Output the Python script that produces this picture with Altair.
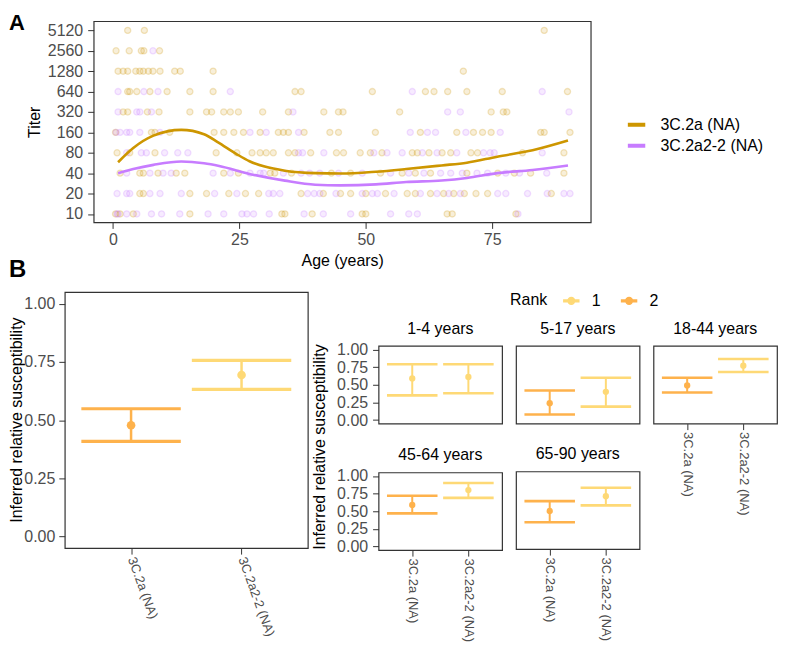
import altair as alt
import pandas as pd

FONT = "Liberation Sans"
GOLD = "#CD9600"
PURPLE = "#C77CFF"
RANK_DOMAIN = ["1", "2"]
RANK_RANGE = ["#FED976", "#FEB24C"]

# ---------------- Panel A data ----------------
series_names = ["3C.2a (NA)", "3C.2a2-2 (NA)"]
titer_ticks = [10, 20, 40, 80, 160, 320, 640, 1280, 2560, 5120]
age_ticks = [0, 25, 50, 75]

# 3C.2a (NA): ages of individuals at each titer level
a2a_t10 = [0.5, 1.4, 4.0, 15.2, 33.4, 34.0, 39.4, 49.3, 50.0, 66.1, 67.1, 79.7]
a2a_t20 = [5.3, 6.0, 15.2, 18.5, 22.9, 26.2, 28.8, 37.2, 41.6, 45.0, 47.0, 50.0, 53.9, 58.2,
           59.8, 62.8, 65.4, 67.4, 69.5, 71.8, 74.1, 86.7]
a2a_t40 = [1.4, 5.3, 6.0, 8.9, 12.5, 14.2, 21.9, 24.8, 31.1, 32.0, 35.3, 43.2, 47.0, 52.9,
           57.2, 59.8, 62.8, 70.0, 76.1, 79.4, 82.6, 89.2]
a2a_t80 = [0.8, 3.3, 8.3, 20.4, 24.5, 27.5, 29.1, 30.3, 31.7, 34.7, 36.0, 39.1, 44.2, 45.6,
           48.9, 50.9, 53.2, 59.2, 60.2, 62.5, 65.1, 66.8, 70.8, 72.1, 81.0, 89.2]
a2a_t160 = [0.5, 7.6, 8.3, 11.2, 20.0, 21.9, 23.9, 25.8, 29.1, 32.7, 33.7, 34.7, 37.8, 42.9,
            44.6, 51.9, 60.8, 68.0, 71.3, 73.1, 74.8, 84.6, 85.3, 90.4]
a2a_t320 = [2.0, 2.9, 6.8, 9.1, 15.2, 18.5, 19.5, 21.9, 23.2, 24.8, 29.6, 34.7, 41.7, 44.6,
            45.5, 56.7, 74.8, 77.2, 77.9]
a2a_t640 = [2.9, 3.3, 4.7, 7.3, 10.7, 15.2, 19.8, 36.0, 37.2, 51.3, 61.8, 63.5, 66.2, 70.0,
            77.0, 89.9]
a2a_t1280 = [1.0, 2.0, 2.9, 4.5, 5.3, 6.0, 7.0, 7.9, 9.3, 12.2, 13.3, 19.8, 69.3]
a2a_t2560 = [0.6, 3.2, 5.6, 6.1, 9.2]
a2a_t5120 = [2.9, 6.2, 85.3]

# 3C.2a2-2 (NA): ages of individuals at each titer level
b22_t10 = [0.8, 1.0, 2.7, 4.7, 7.6, 9.6, 13.2, 18.8, 21.9, 25.5, 26.5, 27.8, 30.9, 37.8,
           41.6, 47.0, 54.9, 58.5, 60.2, 80.1]
b22_t20 = [0.8, 2.7, 3.3, 7.3, 9.3, 13.5, 20.1, 24.5, 30.8, 31.7, 33.0, 38.5, 39.8, 40.9,
           44.1, 49.3, 51.3, 52.3, 55.6, 60.8, 64.1, 66.4, 68.7, 76.1, 77.7, 82.0, 85.9,
           89.2, 90.4]
b22_t40 = [2.7, 7.3, 9.9, 11.5, 19.8, 23.2, 27.1, 29.1, 29.8, 33.7, 37.2, 38.9, 40.9, 44.6,
           49.3, 54.9, 58.5, 61.5, 64.8, 66.8, 69.1, 72.0, 74.1, 77.7, 80.4, 85.8]
b22_t80 = [2.7, 5.6, 6.6, 10.2, 12.8, 14.8, 36.7, 37.5, 41.7, 51.6, 54.2, 57.2, 61.2, 64.1,
           68.0, 73.3, 74.6, 75.4, 84.9]
b22_t160 = [0.6, 1.4, 2.7, 3.3, 5.3, 9.3, 27.1, 30.3, 36.7, 58.8, 62.2, 63.8, 69.8, 76.6]
b22_t320 = [1.0, 4.7, 5.3, 7.6, 35.6, 66.2, 68.7, 90.2]
b22_t640 = [1.0, 6.1, 8.9, 23.2, 59.2, 84.9]
b22_t1280 = []
b22_t2560 = [7.9]
b22_t5120 = []

# smoothed trend curves
gold_curve_age = [1, 4, 8, 13.5, 18, 20.7, 24.5, 27, 30, 34, 40, 45, 52, 58, 65, 70, 76, 83, 90]
gold_curve_titer = [58, 94, 143, 174, 150, 115, 76, 60, 50, 43.5, 40, 39.5, 42, 46, 52, 57,
                    70, 87, 121]
purple_curve_age = [1, 4, 8, 13.5, 18, 21, 27, 34, 40, 45, 52, 58, 65, 70, 76, 83, 90]
purple_curve_titer = [40, 46, 53, 59.5, 56, 51, 39, 31, 27, 26.4, 27.3, 29.6, 31.2, 34, 40,
                      44.5, 52]

# ---------------- Panel B data ----------------
variants = ["3C.2a (NA)", "3C.2a2-2 (NA)"]
overall_rank = ["2", "1"]
overall_est = [0.478, 0.694]
overall_lo = [0.409, 0.632]
overall_hi = [0.549, 0.757]

age_groups = ["1-4 years", "5-17 years", "18-44 years", "45-64 years", "65-90 years"]
sm_rank_2a = ["1", "2", "2", "2", "2"]
sm_est_2a = [0.59, 0.24, 0.49, 0.59, 0.49]
sm_lo_2a = [0.35, 0.08, 0.39, 0.47, 0.33]
sm_hi_2a = [0.79, 0.42, 0.60, 0.72, 0.63]
sm_rank_2a22 = ["1", "1", "1", "1", "1"]
sm_est_2a22 = [0.61, 0.40, 0.77, 0.80, 0.70]
sm_lo_2a22 = [0.38, 0.19, 0.68, 0.69, 0.57]
sm_hi_2a22 = [0.79, 0.60, 0.865, 0.90, 0.82]

susc_ticks = [0, 0.25, 0.5, 0.75, 1.0]
panel_tags = ["A", "B"]
shared_ytitle = "Inferred relative susceptibility"

# ---------------- build tables ----------------
def level_rows(name, lists):
    rows = []
    for lvl, ages in zip(titer_ticks, lists):
        for a in ages:
            rows.append({"age": a, "titer": lvl, "series": name})
    return rows

pts = pd.DataFrame(
    level_rows(series_names[0], [a2a_t10, a2a_t20, a2a_t40, a2a_t80, a2a_t160, a2a_t320,
                                 a2a_t640, a2a_t1280, a2a_t2560, a2a_t5120])
    + level_rows(series_names[1], [b22_t10, b22_t20, b22_t40, b22_t80, b22_t160, b22_t320,
                                   b22_t640, b22_t1280, b22_t2560, b22_t5120])
)
curves = pd.DataFrame({
    "age": gold_curve_age + purple_curve_age,
    "titer": gold_curve_titer + purple_curve_titer,
    "series": [series_names[0]] * len(gold_curve_age) + [series_names[1]] * len(purple_curve_age),
})

NOSTROKE = alt.ViewBackground(strokeOpacity=0)
spacer_df = pd.DataFrame({"v": [0]})


def spacer(w, h):
    return alt.Chart(spacer_df).mark_point(opacity=0).encode(
        x=alt.value(0), y=alt.value(0)).properties(width=w, height=h, view=NOSTROKE)


def vtitle(text, cx, cy, w, h):
    return alt.Chart(pd.DataFrame({"t": [text]})).mark_text(
        angle=270, align="center", baseline="middle", fontSize=16, font=FONT, color="black"
    ).encode(text="t:N", x=alt.value(cx), y=alt.value(cy)).properties(
        width=w, height=h, view=NOSTROKE)

# ---------------- Panel A ----------------
x_a = alt.X("age:Q", scale=alt.Scale(domain=[-3.83, 94.5], nice=False, zero=False),
            axis=alt.Axis(values=age_ticks, title="Age (years)", labelPadding=3, titlePadding=5))
y_a = alt.Y("titer:Q", scale=alt.Scale(type="log", base=2, domain=[7.5, 7000], nice=False),
            axis=alt.Axis(values=titer_ticks, format="d", title="Titer", titlePadding=5,
                          labelPadding=5))
color_a = alt.Color("series:N", scale=alt.Scale(domain=series_names, range=[GOLD, PURPLE]),
                    legend=alt.Legend(title=None, orient="none", legendX=536, legendY=95,
                                      symbolType="M-1,-0.16H1V0.16H-1Z", symbolSize=256,
                                      symbolOpacity=1, labelFontSize=16, labelFont=FONT,
                                      labelColor="black", labelOffset=15, rowPadding=4))

pts_fill = alt.Chart(pts).mark_circle(size=38, fillOpacity=0.15, strokeOpacity=0).encode(
    x=x_a, y=y_a, color=color_a)
pts_ring = alt.Chart(pts).mark_point(size=38, strokeWidth=1.3, strokeOpacity=0.33,
                                     filled=False).encode(x=x_a, y=y_a, color=color_a)
trend = alt.Chart(curves).mark_line(strokeWidth=2.6, interpolate="monotone").encode(
    x=x_a, y=y_a, color=color_a)
chart_a = alt.layer(pts_fill, pts_ring, trend).properties(width=499, height=202)

tagA = alt.Chart(pd.DataFrame({"tag": [panel_tags[0]]})).mark_text(
    align="left", baseline="alphabetic", fontSize=22, fontWeight="bold", font=FONT,
    color="black").encode(text="tag:N", x=alt.value(0), y=alt.value(9))
tagB = alt.Chart(pd.DataFrame({"tag": [panel_tags[1]]})).mark_text(
    align="left", baseline="alphabetic", fontSize=24, fontWeight="bold", font=FONT,
    color="black").encode(text="tag:N", x=alt.value(0), y=alt.value(257))
spacer_a = alt.layer(tagA, tagB).properties(width=85, height=202, view=NOSTROKE)

row_a = alt.hconcat(spacer_a, chart_a, spacing=0, bounds="flush").resolve_scale(
    color="independent")

# ---------------- Panel B ----------------
RANK_SYMBOL = ("M-1,-0.13H-0.45V0.13H-1Z M0.45,-0.13H1V0.13H0.45Z "
               "M0.45,0A0.45,0.45,0,1,1,-0.45,0A0.45,0.45,0,1,1,0.45,0Z")
rank_legend = alt.Legend(title="Rank", orient="none", legendX=503, legendY=0,
                         direction="horizontal", titleOrient="left", titleFontSize=16,
                         titleFontWeight="normal", titleColor="black", titleFont=FONT,
                         titleBaseline="middle", titlePadding=15,
                         labelFontSize=16, labelFont=FONT, labelColor="black",
                         symbolType=RANK_SYMBOL, symbolSize=225, symbolOpacity=1,
                         labelOffset=12, columnPadding=18)
rank_color = alt.Color("rank:N", scale=alt.Scale(domain=RANK_DOMAIN, range=RANK_RANGE),
                       legend=rank_legend)
susc_scale = alt.Scale(domain=[-0.05, 1.05], nice=False, zero=False)


def y_enc(field, axis):
    return alt.Y(field + ":Q", scale=susc_scale, axis=axis)


def pointrange(df, x_enc, y_axis, pt_size, cap, rule_w, cap_w):
    base = alt.Chart(df)
    pt = base.mark_circle(size=pt_size, opacity=1).encode(
        x=x_enc, y=y_enc("est", y_axis), color=rank_color)
    rule = base.mark_rule(strokeWidth=rule_w).encode(
        x=x_enc, y=y_enc("lo", y_axis), y2="hi:Q", color=rank_color)
    lo = base.mark_tick(size=cap, thickness=cap_w, opacity=1).encode(
        x=x_enc, y=y_enc("lo", y_axis), color=rank_color)
    hi = base.mark_tick(size=cap, thickness=cap_w, opacity=1).encode(
        x=x_enc, y=y_enc("hi", y_axis), color=rank_color)
    return [pt, rule, lo, hi]


bl_df = pd.DataFrame({"variant": variants, "rank": overall_rank, "est": overall_est,
                      "lo": overall_lo, "hi": overall_hi})
BL_W, BL_H = 244, 257
x_bl = alt.X("variant:N", scale=alt.Scale(type="point", padding=0.6, domain=variants),
             axis=alt.Axis(title=None, labelAngle=70, labelAlign="left",
                           labelBaseline="middle", labelFontSize=13, labelPadding=3))
y_bl_axis = alt.Axis(values=susc_ticks, format=".2f", title=None, labelPadding=4)
chart_bl = alt.layer(*pointrange(bl_df, x_bl, y_bl_axis, 75, 0.9 * BL_W / 2.2, 2.5, 3.2)
                     ).properties(width=BL_W, height=BL_H)

PW, PH = 124, 78


def small_panel(i, show_y, show_x):
    df = pd.DataFrame({"variant": variants,
                       "rank": [sm_rank_2a[i], sm_rank_2a22[i]],
                       "est": [sm_est_2a[i], sm_est_2a22[i]],
                       "lo": [sm_lo_2a[i], sm_lo_2a22[i]],
                       "hi": [sm_hi_2a[i], sm_hi_2a22[i]]})
    if show_x:
        xax = alt.Axis(title=None, labelAngle=90, labelAlign="left", labelBaseline="middle",
                       labelFontSize=13, labelPadding=2)
    else:
        xax = None
    if show_y:
        yax = alt.Axis(values=susc_ticks, format=".2f", title=None, labelPadding=5)
    else:
        yax = None
    x_enc = alt.X("variant:N", scale=alt.Scale(type="point", padding=0.6, domain=variants),
                  axis=xax)
    layers = pointrange(df, x_enc, yax, 40, 0.9 * PW / 2.2, 2, 2.6)
    strip = alt.Chart(pd.DataFrame({"g": [age_groups[i]]})).mark_text(
        align="center", baseline="alphabetic", fontSize=16, font=FONT, color="black"
    ).encode(text="g:N", x=alt.value(PW / 2), y=alt.value(-12))
    return alt.layer(*layers, strip).properties(width=PW, height=PH)


p1 = small_panel(0, True, False)
p2 = small_panel(1, False, False)
p3 = small_panel(2, False, True)
p4 = small_panel(3, True, True)
p5 = small_panel(4, False, True)

col0 = alt.vconcat(p1, p4, spacing=17)
col1 = alt.vconcat(p2, p5, spacing=21)
rows_h = alt.hconcat(col0, col1, p3, spacing=12)
chart_br = alt.vconcat(spacer(1, 28), rows_h, spacing=0)

# left spacer holds panel B's axis title; gap holds the facet grid's shared axis title
spacer_b = vtitle(shared_ytitle, 8, BL_H / 2, 56, 1)
gap_b = vtitle(shared_ytitle, 12, 155.5, 71, 1)

row_b = alt.hconcat(spacer_b, chart_bl, gap_b, chart_br, spacing=0, bounds="flush")

chart = alt.vconcat(row_a, row_b, spacing=7).resolve_scale(color="independent").properties(
    padding={"top": 3, "left": 0, "right": 0, "bottom": 0})

chart = chart.configure(font=FONT).configure_axis(
    labelFont=FONT, labelFontSize=16, labelColor="#4D4D4D",
    titleFont=FONT, titleFontSize=16, titleColor="black", titleFontWeight="normal",
    tickColor="#333333", tickSize=6, tickWidth=1, domain=False, grid=False, labelFlush=False
).configure_view(stroke="#333333", strokeWidth=1.2)

chart.save("out.html", embed_options={"renderer": "svg", "actions": False})
